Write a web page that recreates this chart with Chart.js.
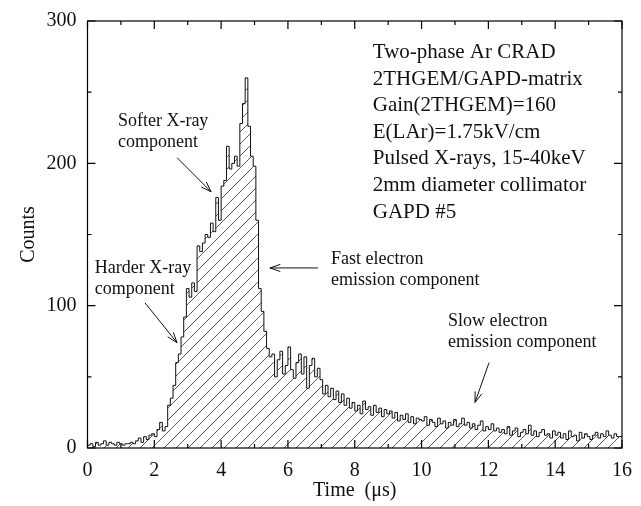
<!DOCTYPE html>
<html>
<head>
<meta charset="utf-8">
<script src="https://cdn.jsdelivr.net/npm/chart.js@4.4.1/dist/chart.umd.min.js"></script>
<style>
  html, body { margin: 0; padding: 0; background: #fff; }
  canvas { display: block; }
</style>
</head>
<body>
<canvas id="myChart" width="641" height="506"></canvas>
<script>
// histogram: 200 bins of 0.08 us from 0 to 16 us
var binWidth = 0.08;
var counts = [
    7, 2, 3, 1, 4, 2, 3, 5, 2, 4, 3, 2, 4, 3, 2, 3,
    3, 4, 3,
    5, 7, 4, 8, 6, 9,
    10, 8, 13, 18, 12, 15,
    30, 35, 44, 60, 66, 78, 92,
    112, 106, 116, 110, 142, 138, 144, 150, 148, 158,
    152, 176, 160, 184, 188, 212, 196, 200, 205, 198,
    228, 242, 260, 226, 205, 198, 160, 112, 96, 82,
    70, 64, 66, 50, 62, 68, 52, 58, 71, 55,
    49, 60, 66, 52, 64, 42, 58, 63, 50, 56,
    48, 38, 44, 36, 42, 34, 40, 32, 38, 30, 35, 28,
    32, 26, 30, 24, 33, 27, 29, 23, 30, 25, 28, 22, 27,
    24, 26, 21, 25, 19, 23, 20, 24, 18, 22, 17, 21, 20,
    19, 22, 16, 20, 18, 15, 21, 17, 19, 14, 18, 16, 20, 15, 17,
    21, 16, 18, 14, 17, 13, 16, 19, 12, 15, 13, 17, 12, 14, 11,
    13, 10, 15, 9, 12, 14, 8, 11, 13, 10, 16, 9, 12, 8, 11, 13, 9, 10, 7, 12,
    9, 11, 7, 10, 6, 12, 8, 9, 5, 11, 7, 10, 8, 6, 9, 11, 7, 10, 8, 12, 9, 7, 10, 8
];
var xMajorTicks = [0, 2, 4, 6, 8, 10, 12, 14, 16];
var yMajorTicks = [0, 100, 200, 300];

var infoLines = [
    "Two-phase Ar CRAD",
    "2THGEM/GAPD-matrix",
    "Gain(2THGEM)=160",
    "E(LAr)=1.75kV/cm",
    "Pulsed X-rays, 15-40keV",
    "2mm diameter collimator",
    "GAPD #5"
];

// text notes and arrows, anchored in data units (us, counts)
var notes = [
    { x: 0.91, y: 226, lines: ["Softer X-ray", "component"], arrow: [2.68, 204, 3.70, 180] },
    { x: 0.22, y: 123, lines: ["Harder X-ray", "component"], arrow: [1.72, 102, 2.68, 74] },
    { x: 7.29, y: 129, lines: ["Fast electron", "emission component"], arrow: [6.90, 126.5, 5.46, 126.5] },
    { x: 10.79, y: 86, lines: ["Slow electron", "emission component"], arrow: [12.02, 60, 11.60, 32] }
];
var infoAnchor = { x: 8.54, y: 274 };

var points = counts.map(function (c, i) {
    return { x: +(i * binWidth).toFixed(2), y: c };
});
points.push({ x: 16, y: counts[counts.length - 1] });

// diagonal hatch
var tile = document.createElement("canvas");
tile.width = 12;
tile.height = 12;
var tctx = tile.getContext("2d");
tctx.strokeStyle = "#333";
tctx.lineWidth = 0.8;
tctx.beginPath();
tctx.moveTo(-1, 13); tctx.lineTo(13, -1);
tctx.moveTo(-1, 1); tctx.lineTo(1, -1);
tctx.moveTo(11, 13); tctx.lineTo(13, 11);
tctx.stroke();

var ctx = document.getElementById("myChart").getContext("2d");
var hatch = ctx.createPattern(tile, "repeat");

var serif = "'Liberation Serif', 'Times New Roman', serif";

function arrowHead(c, x0, y0, x1, y1) {
    var a = Math.atan2(y1 - y0, x1 - x0);
    var len = 11, spread = 0.33;
    c.beginPath();
    c.moveTo(x0, y0); c.lineTo(x1, y1);
    c.moveTo(x1 - len * Math.cos(a - spread), y1 - len * Math.sin(a - spread));
    c.lineTo(x1, y1);
    c.lineTo(x1 - len * Math.cos(a + spread), y1 - len * Math.sin(a + spread));
    c.stroke();
}

var framePlugin = {
    id: "frame",
    afterDraw: function (chart) {
        var c = chart.ctx;
        var xs = chart.scales.x, ys = chart.scales.y;
        var a = chart.chartArea;
        c.save();
        c.strokeStyle = "#000";
        c.lineWidth = 1.2;
        c.strokeRect(a.left, a.top, a.right - a.left, a.bottom - a.top);
        c.beginPath();
        for (var t = 0; t <= 16; t++) {
            var px = xs.getPixelForValue(t);
            var len = t % 2 === 0 ? 8 : 4;
            c.moveTo(px, a.bottom); c.lineTo(px, a.bottom - len);
            c.moveTo(px, a.top); c.lineTo(px, a.top + len);
        }
        for (var v = 0; v <= 300; v += 50) {
            var py = ys.getPixelForValue(v);
            var l2 = v % 100 === 0 ? 8 : 4;
            c.moveTo(a.left, py); c.lineTo(a.left + l2, py);
            c.moveTo(a.right, py); c.lineTo(a.right - l2, py);
        }
        c.stroke();

        c.fillStyle = "#111";
        c.textBaseline = "alphabetic";
        c.textAlign = "left";
        c.font = "21px " + serif;
        var ix = xs.getPixelForValue(infoAnchor.x), iy = ys.getPixelForValue(infoAnchor.y);
        infoLines.forEach(function (s, k) {
            c.fillText(s, ix, iy + k * 26.6);
        });

        c.font = "18px " + serif;
        c.lineWidth = 1;
        c.strokeStyle = "#111";
        notes.forEach(function (n) {
            var nx = xs.getPixelForValue(n.x), ny = ys.getPixelForValue(n.y);
            n.lines.forEach(function (s, k) {
                c.fillText(s, nx, ny + k * 21);
            });
            arrowHead(c,
                xs.getPixelForValue(n.arrow[0]), ys.getPixelForValue(n.arrow[1]),
                xs.getPixelForValue(n.arrow[2]), ys.getPixelForValue(n.arrow[3]));
        });
        c.restore();
    }
};

new Chart(ctx, {
    type: "line",
    data: {
        datasets: [{
            data: points,
            stepped: "after",
            borderColor: "#111",
            borderWidth: 1,
            pointRadius: 0,
            fill: "origin",
            backgroundColor: hatch
        }]
    },
    options: {
        responsive: false,
        animation: false,
        layout: { padding: { left: 0, top: 21, right: 19, bottom: 0 } },
        plugins: {
            legend: { display: false },
            tooltip: { enabled: false }
        },
        scales: {
            x: {
                type: "linear",
                min: 0,
                max: 16,
                afterFit: function (s) { s.height = 58; },
                afterBuildTicks: function (s) {
                    s.ticks = xMajorTicks.map(function (v) { return { value: v }; });
                },
                grid: { display: false },
                border: { display: false },
                ticks: { color: "#111", font: { family: serif, size: 20 }, padding: 3, maxRotation: 0 },
                title: { display: true, text: "Time  (\u03bcs)", color: "#111", font: { family: serif, size: 20 }, padding: { top: 0, bottom: 3 } }
            },
            y: {
                min: 0,
                max: 300,
                afterFit: function (s) { s.width = 87.5; },
                afterBuildTicks: function (s) {
                    s.ticks = yMajorTicks.map(function (v) { return { value: v }; });
                },
                grid: { display: false },
                border: { display: false },
                ticks: { color: "#111", font: { family: serif, size: 20 }, padding: 3 },
                title: { display: true, text: "Counts", color: "#111", font: { family: serif, size: 20 }, padding: { top: 17, bottom: 0 } }
            }
        }
    },
    plugins: [framePlugin]
});
</script>
</body>
</html>
